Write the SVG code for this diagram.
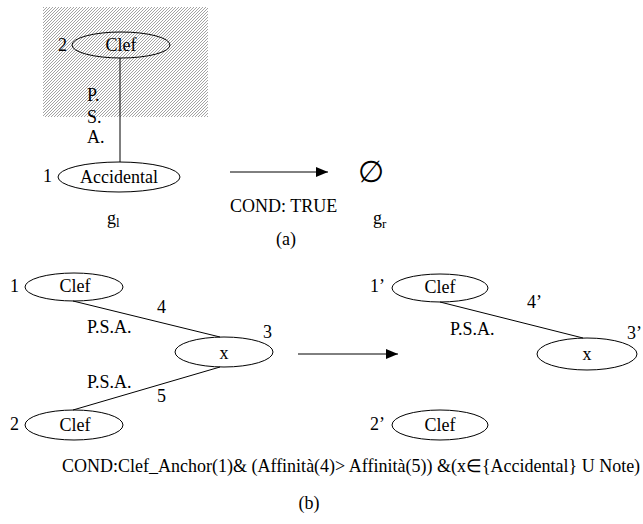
<svg xmlns="http://www.w3.org/2000/svg" width="643" height="524" viewBox="0 0 643 524">
<defs>
<pattern id="hatch" patternUnits="userSpaceOnUse" x="0" y="0" width="3" height="3">
<rect x="0" y="2" width="1" height="1" fill="#a3a3a3"/>
<rect x="1" y="1" width="1" height="1" fill="#a3a3a3"/>
<rect x="2" y="0" width="1" height="1" fill="#a3a3a3"/>
</pattern>
<marker id="arr" viewBox="0 0 12 10" refX="12" refY="5" markerWidth="12" markerHeight="10" markerUnits="userSpaceOnUse" orient="auto">
<path d="M0,0 L12,5 L0,10 Z" fill="#000"/>
</marker>
</defs>
<style>
text{font-family:"Liberation Serif","Times New Roman",serif;font-size:18px;fill:#000}
.c{text-anchor:middle}
.node{fill:none;stroke:#000;stroke-width:1}
.edge{stroke:#000;stroke-width:1;fill:none}
.sub{font-size:13px}
</style>
<rect x="43" y="7" width="165" height="110" fill="url(#hatch)"/>
<g id="connectors">
<line class="edge" x1="120" y1="58" x2="120" y2="162" stroke="#444"/>
<line class="edge" x1="230" y1="172" x2="328" y2="172" marker-end="url(#arr)"/>
<line class="edge" x1="73" y1="301" x2="220" y2="337"/>
<line class="edge" x1="220" y1="367" x2="73" y2="410"/>
<line class="edge" x1="298" y1="354" x2="398" y2="354" marker-end="url(#arr)"/>
<line class="edge" x1="440" y1="302" x2="583" y2="338"/>
</g>
<g id="a-clef">
<ellipse class="node" cx="121" cy="45" rx="49" ry="13"/>
<text class="c" x="121" y="51">Clef</text>
<text x="58" y="51">2</text>
</g>
<g id="a-accidental">
<ellipse class="node" cx="119" cy="177" rx="61" ry="15"/>
<text class="c" x="119" y="183">Accidental</text>
<text x="43" y="182">1</text>
</g>
<g id="a-labels">
<text x="87" y="101">P.</text>
<text x="87" y="123">S.</text>
<text x="87" y="143">A.</text>
<text x="230" y="212">COND: TRUE</text>
<text x="107" y="224">g<tspan class="sub" dy="3">l</tspan></text>
<text x="373" y="224">g<tspan class="sub" dy="4">r</tspan></text>
<text class="c" x="286" y="245">(a)</text>
</g>
<g id="empty-set">
<text class="c" x="371" y="182" style="font-family:'DejaVu Serif',serif;font-size:30px">∅</text>
</g>
<g id="b-clef1">
<ellipse class="node" cx="74" cy="287" rx="49" ry="14"/>
<text class="c" x="75" y="292">Clef</text>
<text x="10" y="292">1</text>
</g>
<g id="b-x">
<ellipse class="node" cx="224" cy="352" rx="49" ry="15"/>
<text class="c" x="224" y="359">x</text>
<text x="263" y="338">3</text>
</g>
<g id="b-clef2">
<ellipse class="node" cx="74" cy="425" rx="49" ry="15"/>
<text class="c" x="75" y="431">Clef</text>
<text x="10" y="430">2</text>
</g>
<g id="b-edge-labels">
<text x="157" y="313">4</text>
<text x="87" y="333">P.S.A.</text>
<text x="87" y="388">P.S.A.</text>
<text x="157" y="402">5</text>
</g>
<g id="b-clef1p">
<ellipse class="node" cx="440" cy="288" rx="48" ry="14"/>
<text class="c" x="440" y="293">Clef</text>
<text x="370" y="292">1’</text>
</g>
<g id="b-xp">
<ellipse class="node" cx="587" cy="354" rx="50" ry="16"/>
<text class="c" x="587" y="360">x</text>
<text x="627" y="339">3’</text>
</g>
<g id="b-clef2p">
<ellipse class="node" cx="440" cy="425" rx="48" ry="15"/>
<text class="c" x="440" y="431">Clef</text>
<text x="370" y="430">2’</text>
</g>
<g id="b-labels">
<text x="527" y="308">4’</text>
<text x="450" y="335">P.S.A.</text>
<text x="62" y="472">COND:Clef_Anchor(1)&amp; (Affinità(4)&gt; Affinità(5)) &amp;(x∈{Accidental} U Note)</text>
<text class="c" x="309" y="509">(b)</text>
</g>
</svg>
